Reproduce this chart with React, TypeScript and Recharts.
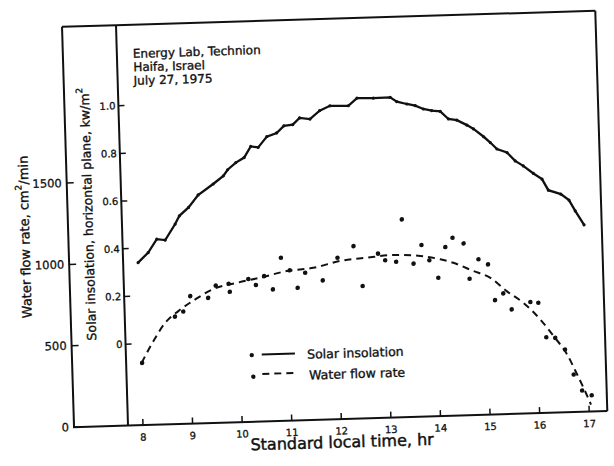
import React from 'react';
import { ComposedChart, Line, Scatter, XAxis, YAxis, Legend } from 'recharts';

const FONT = '"DejaVu Sans", sans-serif';
const INK = '#111';
const TXT = { fontFamily: FONT, fill: INK, stroke: INK, strokeWidth: 0.35 } as const;

// ---- data ----
const hourTicks = [8, 9, 10, 11, 12, 13, 14, 15, 16, 17];
const waterTicks = [0, 500, 1000, 1500];
const solarTicks = [0, 0.2, 0.4, 0.6, 0.8, 1.0];
const solarTickLabels = ['0', '0.2', '0.4', '0.6', '0.8', '1.0'];

const solarTime = [8.0, 8.21, 8.39, 8.56, 8.77, 8.86, 9.05, 9.25, 9.56, 9.77, 9.86, 10.03, 10.2, 10.34, 10.49, 10.67, 10.87, 11.02, 11.2, 11.34, 11.55, 11.75, 11.96, 12.33, 12.51, 12.84, 13.18, 13.31, 13.51, 13.68, 13.84, 14.01, 14.18, 14.34, 14.51, 14.71, 14.84, 15.04, 15.17, 15.3, 15.5, 15.66, 15.82, 16.02, 16.19, 16.31, 16.56, 16.72, 16.84, 17.01];
const solarValue = [0.34, 0.381, 0.436, 0.431, 0.497, 0.531, 0.565, 0.616, 0.66, 0.693, 0.718, 0.747, 0.767, 0.813, 0.808, 0.852, 0.866, 0.895, 0.899, 0.926, 0.92, 0.954, 0.973, 0.971, 1.002, 1.0, 1.001, 0.982, 0.971, 0.963, 0.948, 0.94, 0.936, 0.903, 0.897, 0.875, 0.858, 0.824, 0.799, 0.771, 0.755, 0.719, 0.697, 0.664, 0.639, 0.592, 0.574, 0.548, 0.502, 0.442];

const waterCurveTime = [8.01, 8.26, 8.51, 8.78, 9.13, 9.5, 9.98, 10.45, 10.99, 11.53, 12.07, 12.61, 13.15, 13.69, 14.09, 14.35, 14.75, 15.09, 15.41, 15.74, 16.07, 16.33, 16.59, 16.78, 16.93, 17.04];
const waterCurveValue = [382, 513, 624, 693, 762, 822, 856, 883, 919, 934, 971, 986, 998, 987, 963, 939, 885, 840, 755, 680, 575, 470, 355, 230, 126, 43];

const waterPointTime = [8.02, 8.71, 8.88, 9.03, 9.39, 9.55, 9.81, 9.83, 10.21, 10.36, 10.53, 10.7, 10.88, 11.05, 11.2, 11.36, 11.71, 12.02, 12.35, 12.51, 12.84, 12.98, 13.2, 13.34, 13.55, 13.72, 13.87, 14.04, 14.2, 14.35, 14.57, 14.67, 14.86, 15.05, 15.17, 15.34, 15.5, 15.88, 16.04, 16.18, 16.36, 16.55, 16.71, 16.87, 17.06];
const waterPointValue = [382, 660, 690, 783, 769, 843, 852, 802, 877, 839, 892, 809, 1002, 923, 814, 905, 855, 991, 1060, 813, 1009, 967, 956, 1215, 941, 1054, 959, 850, 1037, 1093, 1056, 838, 956, 923, 702, 742, 642, 684, 678, 465, 459, 386, 231, 131, 100];

const annotationLines = ['Energy Lab, Technion', 'Haifa, Israel', 'July 27, 1975'];

// axis ranges (solar axis shares the water frame: 0 kW/m2 <-> 500 cm2/min, 1.0 <-> 1965)
const X_DOMAIN: [number, number] = [7.698, 17.365];
const WATER_DOMAIN: [number, number] = [0, 2460];
const SOLAR_DOMAIN: [number, number] = [-0.3413, 1.3379];

const solarData = solarTime.map((t, i) => ({ t, s: solarValue[i] }));
const waterCurve = waterCurveTime.map((t, i) => ({ t, w: waterCurveValue[i] }));
const waterPoints = waterPointTime.map((t, i) => ({ t, w: waterPointValue[i] }));

// ---- ticks ----
const BottomTick = (props: any) => {
  const { x, y, payload } = props;
  return (
    <g>
      <line x1={x} y1={y} x2={x} y2={y - 6} stroke={INK} strokeWidth={1.5} />
      <text x={x} y={y + 15.5} textAnchor="middle" fontSize={10} {...TXT} strokeWidth={0.3}>
        {payload.value}
      </text>
    </g>
  );
};

const TopTick = (props: any) => {
  const { x, y } = props;
  return <line x1={x} y1={y} x2={x} y2={y + 5} stroke={INK} strokeWidth={1.5} />;
};

const WaterTick = (props: any) => {
  const { x, y, payload } = props;
  return (
    <g>
      <line x1={x} y1={y} x2={x + 7} y2={y} stroke={INK} strokeWidth={1.5} />
      <text x={x - 5} y={y + 4} textAnchor="end" fontSize={11.5} {...TXT} strokeWidth={0.3}>
        {payload.value}
      </text>
    </g>
  );
};

const SolarTick = (props: any) => {
  const { x, y, payload } = props;
  const idx = solarTicks.findIndex((v) => Math.abs(v - payload.value) < 1e-6);
  return (
    <g>
      <line x1={x} y1={y} x2={x + 6} y2={y} stroke={INK} strokeWidth={1.5} />
      <text x={x - 3} y={y + 3.6} textAnchor="end" fontSize={10} {...TXT} strokeWidth={0.3}>
        {idx >= 0 ? solarTickLabels[idx] : payload.value}
      </text>
    </g>
  );
};

// ---- axis titles ----
const WaterTitle = (props: any) => {
  const vb = props.viewBox || { x: 0, y: 25, width: 74, height: 400 };
  const cx = vb.x + 30.6;
  const cy = vb.y + 209;
  return (
    <text x={cx} y={cy} transform={`rotate(-90 ${cx} ${cy})`} textAnchor="middle" dominantBaseline="central" fontSize={13} {...TXT}>
      Water flow rate, cm<tspan dy={-5} fontSize={9}>2</tspan><tspan dy={5}>/min</tspan>
    </text>
  );
};

const SolarTitle = (props: any) => {
  const vb = props.viewBox || { x: 74, y: 25, width: 54, height: 400 };
  const cx = vb.x + 20.3;
  const cy = vb.y + 188;
  return (
    <text x={cx} y={cy} transform={`rotate(-90 ${cx} ${cy})`} textAnchor="middle" dominantBaseline="central" fontSize={12.5} {...TXT}>
      Solar insolation, horizontal plane, kw/m<tspan dy={-5} fontSize={9}>2</tspan>
    </text>
  );
};

const XTitle = (props: any) => {
  const vb = props.viewBox || { x: 128, y: 425.5, width: 479.5, height: 40 };
  return (
    <text x={vb.x + 213.5} y={vb.y + 28.5} textAnchor="middle" fontSize={16} {...TXT} strokeWidth={0.45}>
      Standard local time, hr
    </text>
  );
};

// ---- legend ----
const renderLegend = (props: any) => {
  const payload = (props.payload || []).filter((p: any) => p.type !== 'none');
  return (
    <svg width={200} height={50} style={{ display: 'block', overflow: 'visible' }}>
      {payload.map((p: any, i: number) => {
        const dashed = i === 1;
        const rowY = i === 0 ? 13.6 : 33;
        return (
          <g key={i}>
            <circle cx={dashed ? 9.7 : 8.8} cy={rowY + (dashed ? 2.5 : 0.3)} r={2.2} fill={INK} />
            <line x1={18.8} y1={rowY} x2={dashed ? 50 : 52} y2={rowY} stroke={INK} strokeWidth={2} strokeDasharray={dashed ? '7 5' : undefined} />
            <text x={dashed ? 65.6 : 64.2} y={rowY + (dashed ? 7 : 5.6)} fontSize={12.5} {...TXT}>
              {p.value}
            </text>
          </g>
        );
      })}
    </svg>
  );
};

const dotShape = (props: any) => <circle cx={props.cx} cy={props.cy} r={2.3} fill={INK} />;

export default function App() {
  return (
    <div
      style={{
        position: 'absolute',
        left: 0,
        top: 0,
        width: 614,
        height: 466,
        transform: 'rotate(-1.72deg)',
        transformOrigin: '128px 425px',
      }}
    >
      <ComposedChart width={614} height={466} margin={{ top: 20, right: 4.5, bottom: 0, left: 0 }}>
        <XAxis
          xAxisId="bottom"
          dataKey="t"
          type="number"
          domain={X_DOMAIN}
          ticks={hourTicks}
          height={40.5}
          tickSize={0}
          tickMargin={0}
          tickLine={false}
          axisLine={{ stroke: INK, strokeWidth: 2 }}
          tick={<BottomTick />}
          interval={0}
          label={<XTitle />}
        />
        <XAxis
          xAxisId="top"
          orientation="top"
          dataKey="t"
          type="number"
          domain={X_DOMAIN}
          ticks={hourTicks}
          height={5}
          tickSize={0}
          tickMargin={0}
          tickLine={false}
          axisLine={{ stroke: INK, strokeWidth: 2 }}
          tick={<TopTick />}
          interval={0}
        />
        <YAxis
          yAxisId="solar"
          type="number"
          domain={SOLAR_DOMAIN}
          ticks={solarTicks}
          width={54}
          tickSize={0}
          tickMargin={0}
          tickLine={false}
          axisLine={{ stroke: INK, strokeWidth: 2 }}
          tick={<SolarTick />}
          interval={0}
          label={<SolarTitle />}
        />
        <YAxis
          yAxisId="water"
          type="number"
          domain={WATER_DOMAIN}
          ticks={waterTicks}
          width={74}
          tickSize={0}
          tickMargin={0}
          tickLine={false}
          axisLine={{ stroke: INK, strokeWidth: 2 }}
          tick={<WaterTick />}
          interval={0}
          label={<WaterTitle />}
        />
        <YAxis
          yAxisId="frame"
          orientation="right"
          type="number"
          domain={WATER_DOMAIN}
          width={2}
          tick={false}
          tickLine={false}
          axisLine={{ stroke: INK, strokeWidth: 2 }}
        />
        <Legend
          layout="horizontal"
          verticalAlign="middle"
          align="center"
          content={renderLegend}
          wrapperStyle={{ position: 'absolute', left: 245, top: 345, width: 200, height: 50 }}
        />
        <Line
          name="Solar insolation"
          data={solarData}
          dataKey="s"
          xAxisId="bottom"
          yAxisId="solar"
          type="linear"
          stroke={INK}
          strokeWidth={2.3}
          dot={{ r: 1.6, fill: INK, stroke: INK, strokeWidth: 0 }}
          isAnimationActive={false}
        />
        <Line
          name="Water flow rate"
          data={waterCurve}
          dataKey="w"
          xAxisId="bottom"
          yAxisId="water"
          type="monotone"
          stroke={INK}
          strokeWidth={2}
          strokeDasharray="7 5"
          dot={false}
          isAnimationActive={false}
        />
        <Scatter
          name="Water flow rate (measured)"
          data={waterPoints}
          dataKey="w"
          xAxisId="bottom"
          yAxisId="water"
          fill={INK}
          shape={dotShape}
          legendType="none"
          isAnimationActive={false}
        />
        <g>
          <line x1={74} y1={25} x2={128} y2={25} stroke={INK} strokeWidth={2} />
          <line x1={73} y1={425.5} x2={128} y2={425.5} stroke={INK} strokeWidth={2} />
          {annotationLines.map((txt, i) => (
            <text key={i} x={144} y={58.2 + i * 13.5} fontSize={12} {...TXT}>
              {txt}
            </text>
          ))}
        </g>
      </ComposedChart>
    </div>
  );
}
